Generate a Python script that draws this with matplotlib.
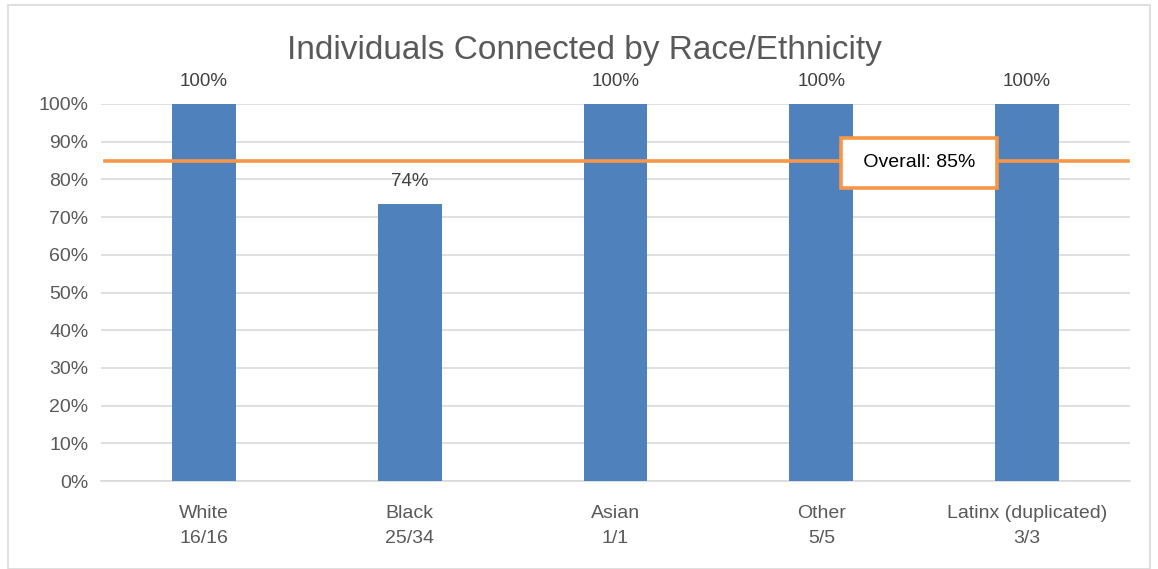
import numpy as np
import matplotlib.pyplot as plt
from matplotlib.patches import Rectangle

# data
groups = ["White", "Black", "Asian", "Other", "Latinx (duplicated)"]
counts = ["16/16", "25/34", "1/1", "5/5", "3/3"]
pct = [1.00, 0.735, 1.00, 1.00, 1.00]
bar_labels = ["100%", "74%", "100%", "100%", "100%"]
overall = 0.85

plt.rcParams['font.family'] = ['Liberation Sans', 'DejaVu Sans']
grey = "#595959"

fig = plt.figure(figsize=(11.58, 5.69), dpi=100)
# outer chart border
fig.patches.append(Rectangle((0.007, 0.0), 0.986, 0.991, transform=fig.transFigure,
                             fill=False, edgecolor="#D9D9D9", linewidth=1.2))
ax = fig.add_axes([101 / 1158, 1 - 481 / 569, 1029 / 1158, 377 / 569])

x = np.arange(len(groups))
ax.bar(x, pct, width=0.31, color="#4F81BD", zorder=3)
for xi, v, lab in zip(x, pct, bar_labels):
    ax.text(xi, v + 0.038, lab, ha="center", va="bottom", fontsize=13.5, color="#404040")

ax.set_xlim(-0.5, len(groups) - 0.5)
ax.set_ylim(0, 1.0)
ax.set_yticks(np.arange(0, 1.01, 0.1))
ax.set_yticklabels([f"{int(round(t * 100))}%" for t in np.arange(0, 1.01, 0.1)])
ax.set_xticks(x)
ax.set_xticklabels([f"{g}\n{c}" for g, c in zip(groups, counts)], linespacing=1.65)
ax.tick_params(axis="both", length=0, labelsize=14, colors=grey)
ax.tick_params(axis="x", pad=17)
ax.tick_params(axis="y", pad=9)
ax.grid(axis="y", color="#D9D9D9", linewidth=1.2, zorder=0)
for s in ["top", "right", "left"]:
    ax.spines[s].set_visible(False)
ax.spines["bottom"].set_color("#D9D9D9")
ax.spines["bottom"].set_linewidth(1.2)

# overall line
ax.axhline(overall, xmin=0.004, xmax=0.998, color="#F79646", linewidth=2.6, zorder=4)
ax.text(3.475, overall - 0.006, f" Overall: {int(overall * 100)}% ", ha="center", va="center",
        fontsize=14, color="black", zorder=5,
        bbox=dict(boxstyle="square,pad=0.85", facecolor="white", edgecolor="#F79646", linewidth=2.6))

fig.text(584 / 1158, 1 - 50 / 569, "Individuals Connected by Race/Ethnicity",
         ha="center", va="center", fontsize=24, color=grey)

fig.savefig("out.png", dpi=100)
